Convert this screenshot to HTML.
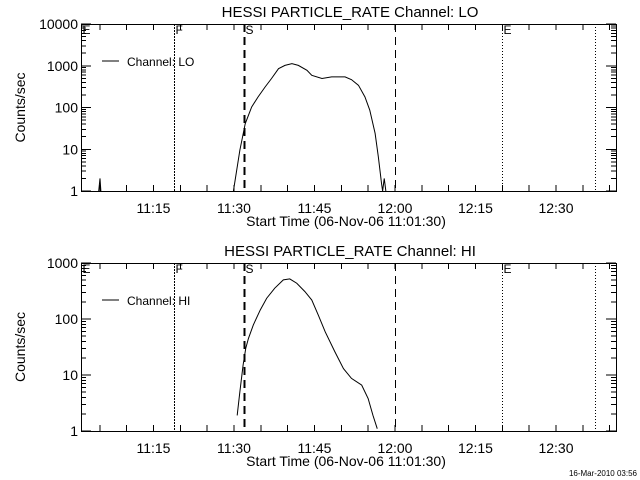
<!DOCTYPE html>
<html><head><meta charset="utf-8"><style>
html,body{margin:0;padding:0;background:#fff;}
svg{display:block;font-family:"Liberation Sans",sans-serif;}
line{shape-rendering:crispEdges;}
</style></head><body>
<svg id="c" width="640" height="480" viewBox="0 0 640 480"></svg>
<script>
// data: minutes after 11:00
const loMin = [4.8,5.04,5.2, 29.9,31.1,32.1,33.3,34.5,35.8,37.0,38.3,39.5,40.8,42.0,43.6,44.5,46.4,48.2,50.7,51.9,53.2,54.4,55.3,56.3,56.9,57.5,57.7,58.0,58.3];
const loVal = [1,2,1, 1,9.5,41,103,180,310,495,850,1020,1120,1020,780,590,495,540,540,465,340,180,87,24,6.6,1.5,1,2,1];
const loBreak = [2]; // index after which the line breaks
const hiMin = [30.6,31.1,31.7,32.2,32.7,33.6,34.9,36.1,37.6,39.2,40.4,41.7,43.2,44.5,45.7,47.0,48.8,50.4,51.9,53.8,55.0,55.9,56.7];
const hiVal = [1.9,5.0,15,30,45,78,145,235,355,500,520,435,310,218,118,59,26,13,8.7,6.6,3.8,1.9,1.1];
const xTickLabels = ["11:15","11:30","11:45","12:00","12:15","12:30"];
const xTickMins = [15,30,45,60,75,90];
const markerMins = [1.5,18.9,31.9,60,79.9,97.2];
const markerLabels = ["E","F","S","","E",""];
const markerStyles = ["dot","dense","bigdash","dash","dot","dot"];

const svg=document.getElementById('c');
const NS='http://www.w3.org/2000/svg';
function mk(t,a,p){const e=document.createElementNS(NS,t);for(const k in a)e.setAttribute(k,a[k]);(p||svg).appendChild(e);return e;}
const X0=81,X1=616,M0=1.5,PXM=5.367;
const xs=m=>X0+(m-M0)*PXM;

function panel(top,bot,decades,title,legend,mins,vals,breaks,name){
  const g=mk('g',{});
  
  
  const per=(bot-top)/decades;
  const ys=v=>bot-Math.log10(v)*per;
  const t=mk('text',{x:350,y:top-7,'text-anchor':'middle','font-size':15},g);t.textContent=title;
  
  
  const box=mk('rect',{x:X0+0.5,y:top+0.5,width:X1-X0,height:bot-top,fill:'none',stroke:'#000','stroke-width':1},g);
  
  
  for(let d=0;d<=decades;d++){
    const y=bot-d*per;
    mk('line',{x1:X0,x2:X0+10,y1:y,y2:y,stroke:'#000'},g);
    mk('line',{x1:X1,x2:X1-10,y1:y,y2:y,stroke:'#000'},g);
    const lb=mk('text',{x:X0-3,y:y+5,'text-anchor':'end','font-size':14},g);lb.textContent=String(Math.pow(10,d));
    
    
    if(d<decades)for(let k=2;k<10;k++){const yy=y-Math.log10(k)*per;
      mk('line',{x1:X0,x2:X0+5,y1:yy,y2:yy,stroke:'#000'},g);
      mk('line',{x1:X1,x2:X1-5,y1:yy,y2:yy,stroke:'#000'},g);}
  }
  for(let m=5;m<=100;m+=5){const x=xs(m);if(x<=X0||x>=X1)continue;
    mk('line',{x1:x,x2:x,y1:bot,y2:bot-6,stroke:'#000'},g);
    mk('line',{x1:x,x2:x,y1:top,y2:top+6,stroke:'#000'},g);}
  xTickLabels.forEach((s,i)=>{const l=mk('text',{x:xs(xTickMins[i]),y:bot+22,'text-anchor':'middle','font-size':14},g);l.textContent=s;
    
    });
  const xl=mk('text',{x:346,y:bot+35,'text-anchor':'middle','font-size':14},g);xl.textContent='Start Time (06-Nov-06 11:01:30)';
  
  
  const yl=mk('text',{x:0,y:0,'text-anchor':'middle','font-size':14,transform:`translate(25,${(top+bot)/2}) rotate(-90)`},g);yl.textContent='Counts/sec';
  
  
  markerMins.forEach((m,i)=>{const x=Math.round(xs(m))+0.5;const st=markerStyles[i];
    const a={x1:x,x2:x,y1:top,y2:bot,stroke:'#000','stroke-width':st==='bigdash'?2:1};
    if(st==='dot')a['stroke-dasharray']='1,2';else if(st==='dense')a['stroke-dasharray']='2,1';else a['stroke-dasharray']='8,5';
    const ln=mk('line',a,g);
    
    
    if(markerLabels[i]){const tl=mk('text',{x:x+1,y:top+10,'font-size':12},g);tl.textContent=markerLabels[i];
      
      }
  });
  let segs=[[]];
  mins.forEach((m,i)=>{segs[segs.length-1].push([xs(m),ys(vals[i])]);if(breaks.includes(i))segs.push([]);});
  segs.forEach(s=>{const p=mk('polyline',{points:s.map(q=>q.join(',')).join(' '),fill:'none',stroke:'#000','stroke-width':1},g);
    
    });
  const ly=top+37;
  mk('line',{x1:102,x2:119,y1:ly,y2:ly,stroke:'#000'},g);
  const lt=mk('text',{x:127,y:ly+5,'font-size':12},g);lt.textContent=legend;
  
  
}
panel(24,191,4,'HESSI PARTICLE_RATE Channel: LO','Channel: LO',loMin,loVal,loBreak,'lo');
panel(263,431,3,'HESSI PARTICLE_RATE Channel: HI','Channel: HI',hiMin,hiVal,[],'hi');
const ts=mk('text',{x:637,y:476,'text-anchor':'end','font-size':8});ts.textContent='16-Mar-2010 03:56';


</script>
</body></html>
